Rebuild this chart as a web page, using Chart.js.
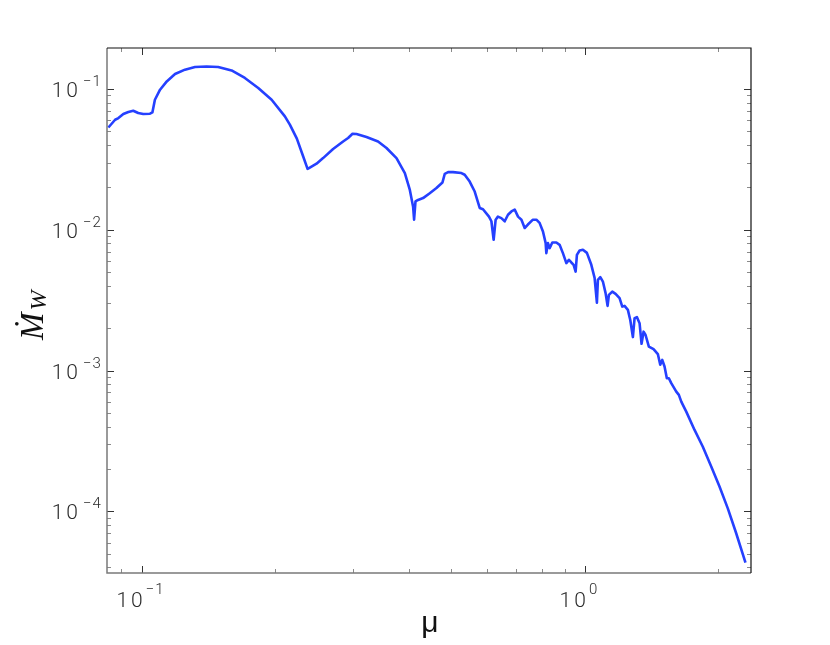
<!DOCTYPE html>
<html>
<head>
<meta charset="utf-8">
<script src="https://cdn.jsdelivr.net/npm/chart.js@4.4.0/dist/chart.umd.min.js"></script>
<style>
  body { margin: 0; background: #fff; }
</style>
</head>
<body>
<canvas id="windChart" width="830" height="645"></canvas>
<script>
// mu values (x) and mass-loss rate (y)
const mu = [
  0.0841, 0.0871, 0.0886, 0.0909, 0.0933, 0.0957, 0.0982, 0.1008, 0.1044, 0.1057,
  0.1071, 0.1100, 0.1139, 0.1189, 0.1252, 0.1319, 0.1401, 0.1488, 0.1595, 0.1709,
  0.1832, 0.1964, 0.2104, 0.2159, 0.2239, 0.2313, 0.2367, 0.2395, 0.2480, 0.2566,
  0.2703, 0.2847, 0.2922, 0.2990, 0.3052, 0.3215, 0.3414, 0.3567, 0.3757, 0.3924,
  0.4027, 0.4096, 0.4117, 0.4147, 0.4203, 0.4314, 0.4466, 0.4624, 0.4771, 0.4829,
  0.4912, 0.5040, 0.5264, 0.5355, 0.5496, 0.5641, 0.5789, 0.5889, 0.6075, 0.6152,
  0.6224, 0.6289, 0.6364, 0.6478, 0.6593, 0.6706, 0.6826, 0.6944, 0.7065, 0.7191,
  0.7313, 0.7436, 0.7633, 0.7771, 0.7902, 0.8042, 0.8155, 0.8184, 0.8253, 0.8326,
  0.8442, 0.8622, 0.8768, 0.8920, 0.9080, 0.9203, 0.9319, 0.9430, 0.9529, 0.9593,
  0.9729, 0.9897, 1.0104, 1.0338, 1.0516, 1.0643, 1.0698, 1.0833, 1.0979, 1.1134,
  1.1250, 1.1327, 1.1528, 1.1728, 1.1973, 1.2142, 1.2288, 1.2501, 1.2657, 1.2830,
  1.2944, 1.3099, 1.3284, 1.3422, 1.3562, 1.3704, 1.3941, 1.4285, 1.4607, 1.4790,
  1.4945, 1.5124, 1.5306, 1.5467, 1.5661, 1.6074, 1.6292, 1.6497, 1.6930, 1.7675,
  1.8452, 1.9274, 2.0121, 2.1008, 2.1944, 2.3030
];
const mdot = [
  0.0533, 0.0605, 0.0622, 0.0664, 0.0686, 0.0701, 0.0675, 0.0664, 0.0668, 0.0682,
  0.0839, 0.0989, 0.1132, 0.1278, 0.1372, 0.1433, 0.1447, 0.1433, 0.1356, 0.1198,
  0.1017, 0.0839, 0.0639, 0.0558, 0.0444, 0.0333, 0.0271, 0.0277, 0.0295, 0.0323,
  0.0375, 0.0424, 0.0449, 0.0481, 0.0479, 0.0456, 0.0424, 0.0381, 0.0323, 0.0253,
  0.0192, 0.0146, 0.0118, 0.0159, 0.0163, 0.0168, 0.0182, 0.0198, 0.0217, 0.0250,
  0.0257, 0.0257, 0.0253, 0.0246, 0.0220, 0.0187, 0.0143, 0.0140, 0.0124, 0.0115,
  0.00849, 0.0118, 0.0124, 0.0121, 0.0115, 0.0128, 0.0135, 0.0139, 0.0124, 0.0118,
  0.0103, 0.0109, 0.0118, 0.0118, 0.0112, 0.00973, 0.00804, 0.00683, 0.00804, 0.00741,
  0.00812, 0.00812, 0.00782, 0.00683, 0.00580, 0.00612, 0.00586, 0.00564, 0.00505, 0.00664,
  0.00713, 0.00721, 0.00686, 0.00564, 0.00456, 0.00304, 0.00441, 0.00461, 0.00429, 0.00355,
  0.00288, 0.00345, 0.00364, 0.00351, 0.00327, 0.00285, 0.00288, 0.00270, 0.00229, 0.00173,
  0.00236, 0.00240, 0.00217, 0.00155, 0.00189, 0.00179, 0.00148, 0.00142, 0.00131, 0.00110,
  0.00119, 0.00107, 0.000883, 0.000883, 0.000814, 0.000709, 0.000672, 0.000602, 0.000511, 0.000379,
  0.000288, 0.000208, 0.000150, 0.000105, 0.0000699, 0.0000432
];

// axis ranges and labelled ticks
const xRange = [0.0835, 2.37];
const yRange = [0.0000365, 0.1956];
const xMajor = [0.1, 1];
const xExp = ['\u22121', '0'];
const yMajor = [1e-1, 1e-2, 1e-3, 1e-4];
const yExp = ['\u22121', '\u22122', '\u22123', '\u22124'];

const labelColor = '#2b2b2b';

function minorValues(min, max) {
    const out = [];
    for (let k = Math.floor(Math.log10(min)); k <= Math.ceil(Math.log10(max)); k++) {
        for (let m = 2; m <= 9; m++) {
            const v = m * Math.pow(10, k);
            if (v > min && v < max) out.push(v);
        }
    }
    return out;
}

// Mathematica-style frame: inward ticks on all four sides, 10^n labels
const framePlugin = {
    id: 'frame',
    afterDraw(chart) {
        const ctx = chart.ctx;
        const a = chart.chartArea;
        const xs = chart.scales.x, ys = chart.scales.y;
        ctx.save();

        // minor ticks
        ctx.lineWidth = 1;
        ctx.strokeStyle = '#8a8a8a';
        ctx.beginPath();
        minorValues(xRange[0], xRange[1]).forEach(v => {
            const px = Math.round(xs.getPixelForValue(v)) + 0.5;
            ctx.moveTo(px, a.bottom); ctx.lineTo(px, a.bottom - 4);
            ctx.moveTo(px, a.top); ctx.lineTo(px, a.top + 4);
        });
        minorValues(yRange[0], yRange[1]).forEach(v => {
            const py = Math.round(ys.getPixelForValue(v)) + 0.5;
            ctx.moveTo(a.left, py); ctx.lineTo(a.left + 4, py);
            ctx.moveTo(a.right, py); ctx.lineTo(a.right - 4, py);
        });
        ctx.stroke();

        // major ticks
        ctx.strokeStyle = '#333';
        ctx.beginPath();
        xMajor.forEach(v => {
            const px = Math.round(xs.getPixelForValue(v)) + 0.5;
            ctx.moveTo(px, a.bottom); ctx.lineTo(px, a.bottom - 7);
            ctx.moveTo(px, a.top); ctx.lineTo(px, a.top + 7);
        });
        yMajor.forEach(v => {
            const py = Math.round(ys.getPixelForValue(v)) + 0.5;
            ctx.moveTo(a.left, py); ctx.lineTo(a.left + 7, py);
            ctx.moveTo(a.right, py); ctx.lineTo(a.right - 7, py);
        });
        ctx.stroke();

        // frame: left/bottom gray, top/right black
        ctx.lineWidth = 1.5;
        ctx.strokeStyle = '#7a7a7a';
        ctx.beginPath();
        ctx.moveTo(a.left, a.top); ctx.lineTo(a.left, a.bottom); ctx.lineTo(a.right, a.bottom);
        ctx.stroke();
        ctx.lineWidth = 1.2;
        ctx.strokeStyle = '#111';
        ctx.beginPath();
        ctx.moveTo(a.left, a.top); ctx.lineTo(a.right, a.top); ctx.lineTo(a.right, a.bottom);
        ctx.stroke();

        // tick labels
        ctx.fillStyle = labelColor;
        const base = '300 21px Roboto, "Liberation Sans", sans-serif';
        const sup = '300 15px Roboto, "Liberation Sans", sans-serif';
        ctx.textBaseline = 'alphabetic';
        ctx.letterSpacing = '3px';

        yMajor.forEach((v, i) => {
            const py = ys.getPixelForValue(v);
            ctx.font = base;
            ctx.textAlign = 'right';
            ctx.fillText('10', 81, py + 8);
            ctx.font = sup;
            ctx.textAlign = 'left';
            ctx.letterSpacing = '1px';
            ctx.fillText(yExp[i], 83, py - 3);
            ctx.letterSpacing = '3px';
        });
        xMajor.forEach((v, i) => {
            const px = xs.getPixelForValue(v);
            ctx.font = base;
            ctx.textAlign = 'right';
            ctx.fillText('10', px + 4, 607);
            ctx.font = sup;
            ctx.textAlign = 'left';
            ctx.letterSpacing = '1px';
            ctx.fillText(xExp[i], px + 4, 594);
            ctx.letterSpacing = '3px';
        });
        ctx.letterSpacing = '0px';

        // axis titles
        ctx.fillStyle = '#111';
        ctx.font = '30px "Liberation Sans", sans-serif';
        ctx.textAlign = 'center';
        ctx.fillText('\u03bc', 430, 632);

        ctx.save();
        ctx.translate(43, 340);
        ctx.rotate(-Math.PI / 2);
        ctx.textAlign = 'left';
        ctx.font = 'italic 33px "Liberation Serif", serif';
        ctx.fillText('\u1e40', 0, 0);
        const mw = ctx.measureText('\u1e40').width;
        ctx.font = 'italic 24px "Liberation Serif", serif';
        ctx.fillText('W', mw + 2, 3);
        ctx.restore();

        ctx.restore();
    }
};

new Chart(document.getElementById('windChart'), {
    type: 'line',
    data: {
        datasets: [{
            data: mu.map((m, i) => ({ x: m, y: mdot[i] })),
            borderColor: '#2540ff',
            borderWidth: 2.6,
            borderJoinStyle: 'round',
            pointRadius: 0,
            tension: 0,
            fill: false
        }]
    },
    options: {
        responsive: false,
        animation: false,
        layout: { padding: { left: 107, right: 79, top: 48, bottom: 72 } },
        plugins: { legend: { display: false }, tooltip: { enabled: false } },
        scales: {
            x: { type: 'logarithmic', min: xRange[0], max: xRange[1], display: false },
            y: { type: 'logarithmic', min: yRange[0], max: yRange[1], display: false }
        }
    },
    plugins: [framePlugin]
});
</script>
</body>
</html>
